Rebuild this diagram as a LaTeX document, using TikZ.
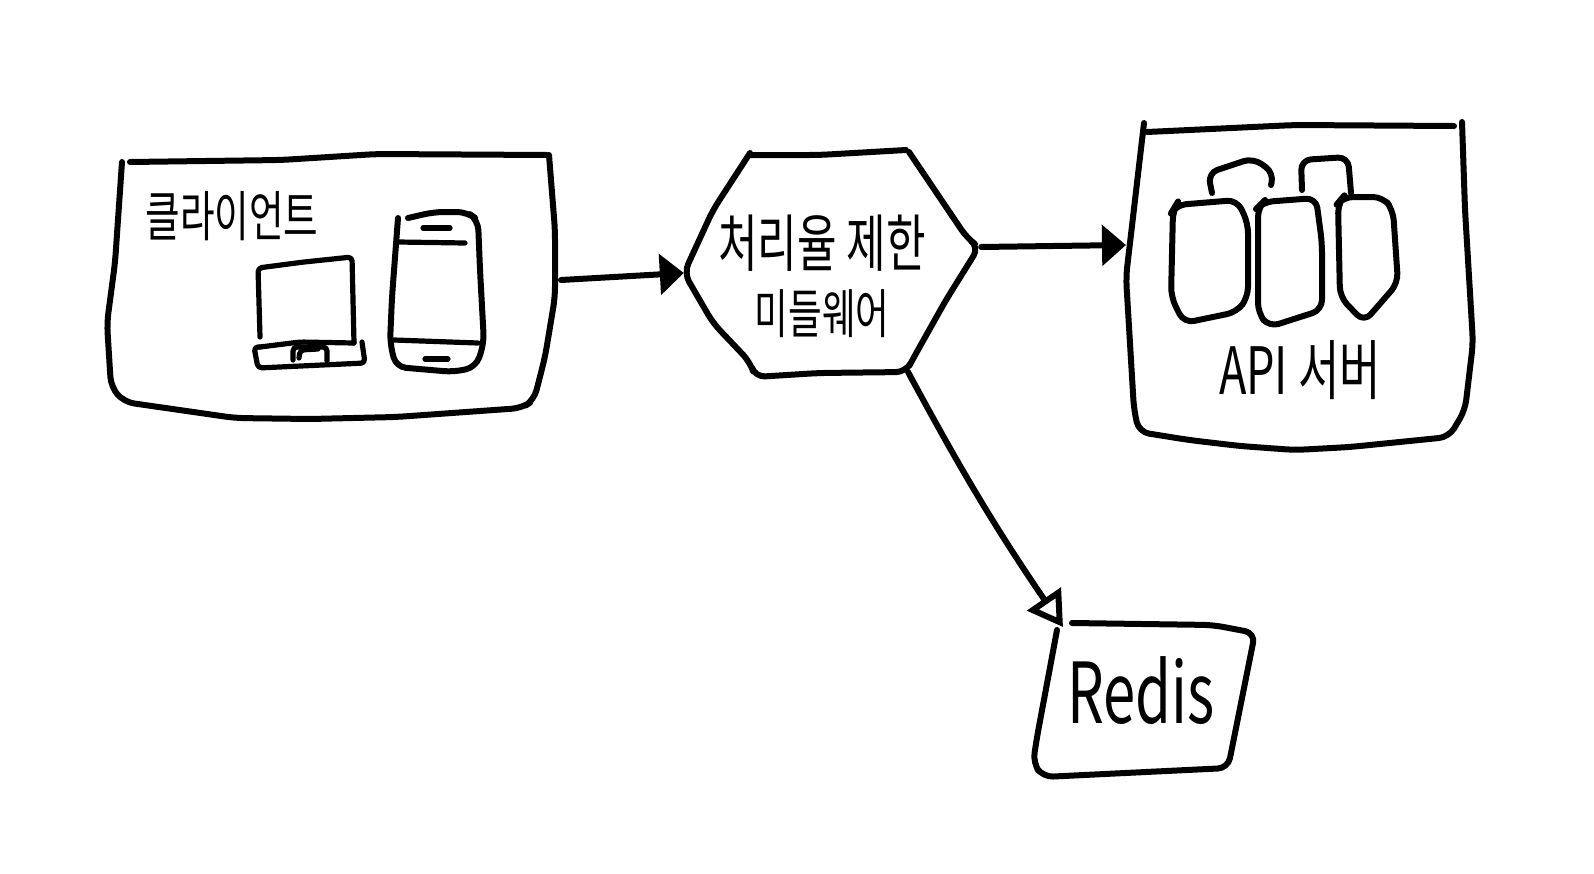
\documentclass[tikz,border=0pt]{standalone}
\usepackage{fontspec}
\newfontfamily\hangul{Noto Sans CJK KR}
\usetikzlibrary{positioning, arrows.meta}
\tikzset{
    sketch/.style={line width=3pt, line cap=round, line join=round, rounded corners=5pt, color=black},
    thinsketch/.style={sketch, line width=2.6pt, rounded corners=2pt},
    hitbox/.style={rectangle, inner sep=0pt, outer sep=0pt},
    handtext/.style={text=black, inner sep=0pt, align=center, yscale=1.45, transform shape, font=\hangul\fontsize{#1}{#1}\selectfont},
    solidarrow/.style={-{Triangle[length=12pt, width=20pt]}, line width=3pt, line cap=round},
    openarrow/.style={-{Triangle[open, length=17pt, width=20pt, fill=white]}, line width=3pt, line cap=round},
}
\begin{document}
\begin{tikzpicture}[x=0.5pt, y=-0.5pt]
    \useasboundingbox (0,0) rectangle (1594,873);

    % Nodi
    \node[hitbox, minimum width=227pt, minimum height=130pt] (client) at (334,280) {};
    \node[hitbox, rotate=5, minimum width=149.25pt, minimum height=118pt] (limiter) at (832.5,260) {};
    \node[hitbox, minimum width=172pt, minimum height=150pt] (api) at (1298,245) {};
    \node[hitbox, minimum width=100pt, minimum height=75pt] (redis) at (1163,702) {};

    % Cliente
    \draw[sketch] (130,162) -- (281,160) -- (377,154) -- (547,155);
    \draw[sketch] (549,155) -- (555,230) -- (555,297) -- (545,357) -- (534,400) -- (522,408)
        -- (396,417) -- (310,419) -- (235,418) -- (124,402) -- (111,387) -- (107,323) -- (115,263) -- (122,162);
    \node[handtext=18.8] (clientlabel) at (232,216) {클라이언트};
    % laptop
    \draw[thinsketch] (260,337) -- (258,268) -- (304,262) -- (352,257) -- (354,343);
    \draw[thinsketch] (260,347) -- (300,342) -- (354,343);
    \draw[thinsketch] (362,342) -- (365,363) -- (258,368) -- (254,347) -- (260,347);
    \draw[thinsketch] (293,360) -- (293,347) -- (327,347) -- (327,361);
    \draw[thinsketch] (299,358) -- (300,350) -- (318,349);
    % telefono
    \draw[sketch] (398,218) -- (392,297) -- (390,343) -- (396,367) -- (454,372) -- (476,367)
        -- (484,343) -- (480,270) -- (478,220) -- (467,212) -- (434,212) -- (408,218);
    \draw[thinsketch] (398,242) -- (465,243);
    \draw[thinsketch] (423,228) -- (450,228);
    \draw[thinsketch] (394,340) -- (478,343);
    \draw[thinsketch] (425,359) -- (448,359);

    % Esagono
    \draw[sketch] (750,155) -- (819,155) -- (906,150);
    \draw[sketch] (909,152) -- (967,238) -- (979,247) -- (946,300) -- (914,357) -- (906,372)
        -- (819,373) -- (755,377) -- (750,362) -- (713,323) -- (684,273) -- (713,210) -- (750,153);
    \node[handtext=21.5] (limitertop) at (822,243) {처리율 제한};
    \node[handtext=18.3] (limiterbottom) at (822,314) {미들웨어};

    % Server API
    \draw[sketch] (1147,132) -- (1295,125) -- (1454,126);
    \draw[sketch] (1462,122) -- (1465,210) -- (1473,343) -- (1465,410) -- (1449,437) -- (1350,447)
        -- (1295,450) -- (1240,446) -- (1189,440) -- (1139,432) -- (1134,410) -- (1126,277) -- (1144,123);
    \draw[sketch] (1176,205) -- (1237,200) -- (1248,223) -- (1248,297) -- (1237,312) -- (1184,323)
        -- (1171,297) -- (1173,210) -- cycle;
    \draw[sketch] (1263,202) -- (1316,198) -- (1322,243) -- (1322,310) -- (1269,327) -- (1258,313)
        -- (1258,207) -- cycle;
    \draw[sketch] (1343,197) -- (1383,197) -- (1393,210) -- (1398,283) -- (1364,322) -- (1340,297)
        -- (1338,203) -- cycle;
    \draw[sketch] (1212,193) -- (1208,173) -- (1253,158) -- (1274,173) -- (1271,185);
    \draw[sketch] (1302,190) -- (1301,160) -- (1348,157) -- (1351,193);
    \node[handtext=22.5] (apilabel) at (1300,370) {API 서버};

    % Redis
    \draw[sketch] (1072,623) -- (1213,625) -- (1255,633) -- (1228,768) -- (1043,777) -- (1033,763)
        -- (1037,737) -- (1057,630);
    \node[handtext=29] (redislabel) at (1141,691) {Redis};

    % Frecce
    \draw[solidarrow] (client.east) -- (limiter.west);
    \draw[solidarrow] (limiter.east) -- (api.west);
    \draw[openarrow] (limiter.-61.7) to[bend right=3] (redis.north west);
\end{tikzpicture}
\end{document}
